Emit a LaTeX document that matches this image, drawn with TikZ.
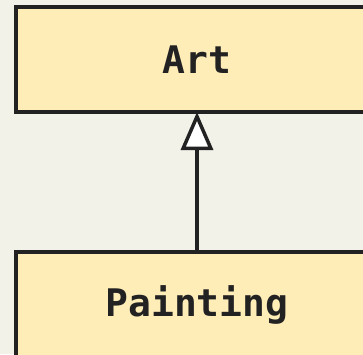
\documentclass[tikz,border=0pt]{standalone}
\usepackage{fontspec}
\setmonofont{DejaVu Sans Mono}
\usetikzlibrary{arrows.meta}
\definecolor{paper}{HTML}{F3F2E8}
\definecolor{boxfill}{HTML}{FFEDB8}
\definecolor{ink}{HTML}{222222}
\tikzset{classbox/.style={draw=ink, fill=boxfill, line width=3.5pt, outer sep=0pt, minimum width=362pt, minimum height=105pt, inner sep=0pt, font=\ttfamily\bfseries\fontsize{38}{44}\selectfont, text=ink},
         inherit/.style={draw=ink, line width=3.5pt, -{Triangle[length=38pt, width=32pt, fill=white]}},
        }

\begin{document}
\begin{tikzpicture}[x=1pt,y=1pt]
        \useasboundingbox[fill=paper](0,0) rectangle (363,354);
        \clip(0,0) rectangle (363,354);
        \node[classbox](art)at(197,294.5){Art};
        \node[classbox](painting)at(197,49.5){Painting};

        \draw[inherit](painting.north)--(art.south);
    \end{tikzpicture}
\end{document}
